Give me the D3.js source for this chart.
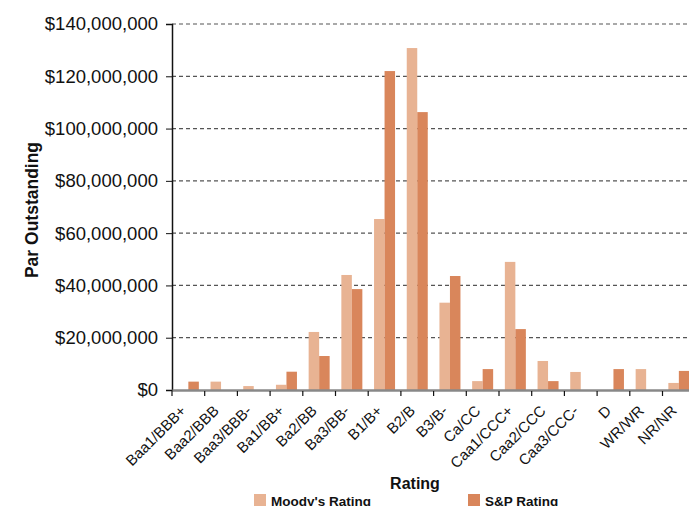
<!DOCTYPE html>
<html>
<head>
  <meta charset="utf-8">
  <style>
    body {
      margin: 0;
      background: #fff;
      font-family: "Liberation Sans", Arial, Helvetica, sans-serif;
    }

    .grid line {
      stroke: #555;
      stroke-width: 1.2px;
      stroke-dasharray: 4, 3;
    }

    .ticktext {
      font-size: 18.5px;
      fill: #111;
    }

    .xlabel {
      font-size: 15px;
      fill: #111;
    }

    .axistitle {
      font-size: 16px;
      font-weight: bold;
      fill: #111;
    }

    .ytitle {
      font-size: 17.5px;
    }

    .legendtext {
      font-size: 13.5px;
      font-weight: bold;
      fill: #111;
    }
  </style>
</head>
<body>
  <div class="chart"></div>

  <script src="https://cdn.jsdelivr.net/npm/d3@7"></script>
  <script>
    // ratings on the x axis
    let categories = ["Baa1/BBB+", "Baa2/BBB", "Baa3/BBB-", "Ba1/BB+", "Ba2/BB",
      "Ba3/BB-", "B1/B+", "B2/B", "B3/B-", "Ca/CC", "Caa1/CCC+", "Caa2/CCC",
      "Caa3/CCC-", "D", "WR/WR", "NR/NR"];

    let seriesNames = ["Moody's Rating", "S&P Rating"];

    // par outstanding, in dollars
    let moodys = [0, 3200000, 1500000, 2000000, 22200000, 44000000, 65400000,
      130800000, 33400000, 3400000, 49000000, 11100000, 6900000, 0, 8000000, 2700000];
    let sp = [3200000, 0, 0, 7000000, 13000000, 38600000, 122000000,
      106300000, 43600000, 8000000, 23300000, 3400000, 0, 8000000, 0, 7300000];

    let yTicks = [0, 20000000, 40000000, 60000000, 80000000, 100000000,
      120000000, 140000000];

    let colors = ["#e8b393", "#d9865b"];

    // setup
    let width = 689, height = 506;
    let margin = { top: 24, left: 172, bottom: 116 };
    let plotBottom = height - margin.bottom;

    let data = categories.map(function (c, i) {
      return { cat: c, values: [moodys[i], sp[i]] };
    });

    let svg = d3.select(".chart").append("svg")
      .attr("width", width)
      .attr("height", height);

    let x = d3.scaleBand()
      .domain(categories)
      .range([margin.left, margin.left + 32.7 * categories.length]);

    let groupWidth = 21;
    let x1 = d3.scaleBand()
      .domain([0, 1])
      .range([(x.bandwidth() - groupWidth) / 2, (x.bandwidth() + groupWidth) / 2]);

    let y = d3.scaleLinear()
      .domain([0, 140000000])
      .range([plotBottom, margin.top]);

    let fmt = function (d) { return "$" + d3.format(",")(d); };

    // dashed gridlines
    svg.append("g")
      .attr("class", "grid")
      .selectAll("line")
      .data(yTicks.filter(function (d) { return d > 0; }))
      .enter().append("line")
      .attr("x1", margin.left)
      .attr("x2", width)
      .attr("y1", function (d) { return y(d); })
      .attr("y2", function (d) { return y(d); });

    // bars
    let groups = svg.selectAll(".group")
      .data(data)
      .enter().append("g")
      .attr("class", "group")
      .attr("transform", function (d) { return "translate(" + x(d.cat) + ",0)"; });

    groups.selectAll("rect")
      .data(function (d) { return d.values.map(function (v, i) { return { i: i, v: v }; }); })
      .enter().append("rect")
      .attr("x", function (d) { return x1(d.i); })
      .attr("width", x1.bandwidth())
      .attr("y", function (d) { return y(d.v); })
      .attr("height", function (d) { return plotBottom - y(d.v); })
      .attr("fill", function (d) { return colors[d.i]; });

    // y axis
    let yAxis = svg.append("g")
      .attr("transform", "translate(" + margin.left + ",0)")
      .call(d3.axisLeft(y).tickValues(yTicks).tickFormat(fmt).tickSize(6).tickPadding(8));
    yAxis.attr("font-size", null).attr("font-family", null);
    yAxis.select(".domain").attr("stroke", "#111").attr("stroke-width", 1.5);
    yAxis.selectAll(".tick line").attr("stroke", "#111");
    yAxis.selectAll("text").attr("class", "ticktext");

    // x axis baseline
    let xAxis = svg.append("g")
      .attr("transform", "translate(0," + plotBottom + ")")
      .call(d3.axisBottom(x).tickSize(0).tickFormat(""));
    xAxis.select(".domain").attr("stroke", "#888").attr("stroke-width", 2.5);
    xAxis.selectAll(".tick").remove();

    // tick marks between categories
    svg.append("g")
      .selectAll("line")
      .data(categories)
      .enter().append("line")
      .attr("x1", function (d) { return x(d); })
      .attr("x2", function (d) { return x(d); })
      .attr("y1", plotBottom + 1)
      .attr("y2", plotBottom + 6)
      .attr("stroke", "#111")
      .attr("stroke-width", 1.2);

    // rotated category labels
    svg.append("g")
      .selectAll("text")
      .data(categories)
      .enter().append("text")
      .attr("class", "xlabel")
      .attr("text-anchor", "end")
      .attr("transform", function (d) {
        return "translate(" + (x(d) + x.bandwidth() / 2 - 5) + "," + (plotBottom + 18) + ") rotate(-45)";
      })
      .attr("dy", "0.35em")
      .text(function (d) { return d; });

    // axis titles
    svg.append("text")
      .attr("class", "axistitle")
      .attr("x", 415)
      .attr("y", 489)
      .attr("text-anchor", "middle")
      .text("Rating");

    svg.append("text")
      .attr("class", "axistitle ytitle")
      .attr("transform", "translate(38," + ((margin.top + plotBottom) / 2 + 3) + ") rotate(-90)")
      .attr("text-anchor", "middle")
      .text("Par Outstanding");

    // legend
    let legendX = [254, 468];
    let legend = svg.selectAll(".legend")
      .data(seriesNames)
      .enter().append("g")
      .attr("class", "legend")
      .attr("transform", function (d, i) { return "translate(" + legendX[i] + ",494)"; });
    legend.append("rect")
      .attr("width", 12)
      .attr("height", 12)
      .attr("fill", function (d, i) { return colors[i]; });
    legend.append("text")
      .attr("class", "legendtext")
      .attr("x", 17)
      .attr("y", 12)
      .text(function (d) { return d; });
  </script>
</body>
</html>
